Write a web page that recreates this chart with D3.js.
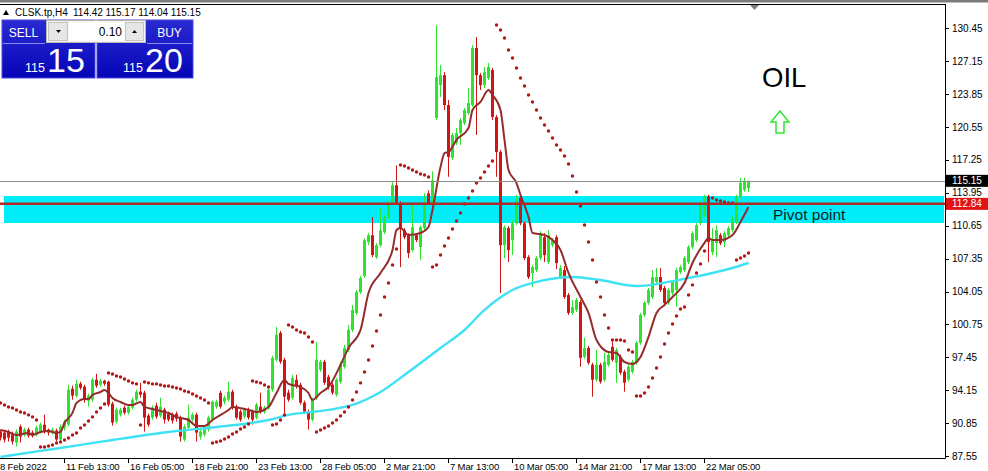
<!DOCTYPE html>
<html><head><meta charset="utf-8">
<script src="https://cdn.jsdelivr.net/npm/d3@7/dist/d3.min.js"></script>
<style>
html,body{margin:0;padding:0;background:#fff;}
svg{display:block;}
text{font-family:"Liberation Sans",Arial,sans-serif;}
</style></head><body>
<svg id="c" width="988" height="471"></svg>
<script>
// ---------- DATA ----------
const symbol = "CLSK.tp,H4";
const lastOHLC = ["114.42", "115.17", "114.04", "115.15"];
const opens = [
90.0,89.9,90.0,89.8,88.9,90.5,89.7,90.2,89.9,89.7,90.0,90.7,90.2,89.9,90.1,89.2,90.4,90.7,94.3,93.6,
94.8,94.5,93.1,93.2,95.2,94.7,95.1,95.0,92.8,91.0,91.7,92.4,91.9,92.4,93.2,94.0,93.9,91.6,91.4,92.6,
91.6,92.2,91.8,91.7,91.8,91.4,89.2,90.4,91.2,91.7,89.5,89.7,90.2,91.2,92.5,93.9,93.0,93.2,94.0,92.5,
92.0,91.5,92.2,92.0,91.4,92.5,92.0,92.4,94.2,97.2,99.9,97.2,93.9,93.4,95.2,94.7,92.9,92.0,91.2,93.4,
96.2,97.0,95.5,94.7,93.7,95.0,96.5,98.2,100.2,101.9,104.0,105.6,109.0,109.7,107.5,108.7,110.0,111.5,113.0,114.7,
112.9,110.2,109.7,108.2,109.7,108.5,110.4,113.9,112.7,121.45,124.75,125.75,122.75,117.45,118.95,119.95,120.95,121.95,122.75,128.47,
125.75,124.75,125.45,126.27,121.55,118.05,108.7,110.4,109.2,110.9,113.45,110.9,107.5,105.9,106.2,107.4,109.5,107.0,108.7,109.5,
105.5,106.2,103.7,101.9,102.2,103.0,97.5,98.4,96.7,95.2,96.7,95.2,96.7,98.5,96.9,97.5,96.0,95.2,96.0,96.9,
98.9,101.7,102.9,103.5,105.0,105.5,104.4,102.9,103.9,104.2,106.0,106.2,107.0,108.5,109.2,110.9,111.7,113.55,108.0,108.9,
109.7,109.0,109.7,110.2,111.0,113.55,114.25,114.42];
const highs = [
90.2,90.1,90.2,90.0,90.2,90.7,90.4,90.4,90.1,90.6,90.9,91.7,90.3,90.4,90.3,90.7,91.2,94.7,94.6,95.2,
95.0,94.7,93.8,95.4,95.8,95.3,95.2,95.1,93.0,92.4,92.4,92.6,92.7,93.4,94.2,94.9,94.1,91.8,92.6,92.9,
93.4,92.4,92.0,91.9,92.0,91.6,90.7,92.7,91.9,91.9,90.2,90.6,91.6,93.1,93.2,94.1,93.6,95.0,94.2,92.7,
92.2,92.4,92.4,92.2,92.9,93.9,92.6,94.4,97.6,100.5,100.1,97.4,94.2,95.7,95.7,94.9,93.1,92.2,93.4,99.0,
97.2,97.2,95.7,94.9,95.4,97.0,98.7,100.7,102.7,104.2,105.6,109.4,109.9,111.5,108.9,112.4,111.7,113.1,115.0,116.7,
113.1,110.4,109.9,112.9,109.9,110.7,113.9,114.2,116.1,130.77,126.77,126.05,123.25,119.95,120.45,121.45,122.45,124.45,128.77,129.57,
125.95,126.57,126.97,126.47,121.75,118.25,110.7,110.6,111.2,113.75,113.65,111.1,107.7,106.7,107.6,110.1,109.9,110.2,109.4,109.7,
106.7,106.6,103.9,103.2,103.4,103.2,99.4,98.6,96.9,98.2,96.9,97.9,97.9,99.0,98.4,97.7,96.2,96.7,97.2,99.1,
101.9,103.1,104.4,106.2,106.4,106.4,104.6,104.4,105.2,106.4,106.7,107.6,108.7,110.1,110.9,113.1,113.75,113.75,110.4,110.7,
109.9,110.1,110.6,111.6,113.75,115.45,115.45,115.17];
const lows = [
89.1,88.9,89.0,88.7,88.5,88.9,89.5,89.4,89.4,89.5,89.8,89.8,89.6,89.7,89.0,88.9,90.1,90.5,93.2,93.4,
94.2,92.9,92.5,93.0,94.4,94.5,94.6,92.5,90.6,90.8,91.5,91.7,91.7,92.2,93.0,93.4,90.0,90.5,91.2,91.3,
91.4,90.8,91.0,90.8,91.0,89.0,89.0,90.2,91.0,89.0,89.2,89.5,90.0,91.0,92.3,92.3,92.7,93.0,92.2,91.2,
91.0,91.3,91.2,90.7,91.2,91.8,91.8,92.2,94.0,97.0,96.8,91.5,93.0,93.2,94.3,92.7,91.8,90.2,91.0,93.2,
96.0,94.7,94.2,93.7,93.5,94.8,96.3,98.0,100.0,101.7,103.8,105.4,108.7,107.5,107.3,108.5,109.8,111.3,112.8,112.8,
106.5,109.3,107.4,108.0,109.0,107.2,110.2,112.7,112.5,121.25,123.55,122.25,115.55,117.25,118.75,118.75,120.75,121.75,122.55,119.75,
124.25,124.45,125.25,121.25,115.55,103.9,107.4,107.0,107.7,110.7,110.7,107.2,105.3,104.5,106.0,107.2,107.0,106.8,108.5,106.3,
105.3,103.3,101.7,101.7,102.0,96.5,97.3,96.7,93.5,95.0,94.8,95.0,96.5,97.0,94.9,95.7,94.0,95.0,95.8,96.7,
98.7,101.5,102.7,103.3,104.8,104.0,102.7,102.7,103.7,102.5,105.8,106.0,106.8,108.3,109.0,110.7,111.5,107.0,107.7,107.5,
108.7,108.5,109.5,110.0,110.8,113.35,114.05,114.04];
const closes = [
89.4,89.2,89.4,89.0,90.0,89.5,90.2,89.6,89.6,90.4,90.7,90.0,89.9,90.2,89.2,90.5,91.0,94.2,93.6,94.8,
94.4,93.2,93.6,95.2,94.6,95.1,94.8,92.7,90.9,92.2,92.2,91.9,92.5,93.2,94.0,93.7,91.4,90.7,92.4,91.5,
92.5,91.2,91.2,91.1,91.3,89.5,90.5,91.4,91.7,89.9,90.0,90.4,91.4,93.0,93.0,92.5,93.4,94.0,92.4,91.4,
91.2,92.2,91.4,91.2,92.7,92.0,92.4,94.2,97.4,99.7,97.0,93.5,93.2,95.4,94.5,92.9,92.0,91.2,93.2,97.2,
97.0,94.9,94.5,93.9,95.2,96.7,98.4,100.2,102.2,104.0,105.4,109.2,109.7,107.7,108.7,110.2,111.5,112.9,114.7,113.0,
110.4,109.5,107.9,110.5,109.2,110.5,112.9,112.9,115.2,125.55,125.75,122.75,117.55,119.75,119.95,121.25,122.25,122.95,128.47,125.75,
124.75,126.05,126.57,121.55,118.05,108.7,110.5,108.2,110.9,113.2,110.9,107.4,105.5,106.5,107.4,109.9,107.7,109.7,109.2,106.9,
106.4,103.5,101.9,102.5,103.2,97.4,98.4,96.9,95.2,96.7,95.0,97.0,97.7,97.2,98.2,95.9,94.9,96.5,97.0,98.9,
101.7,102.9,104.2,105.5,105.5,104.2,102.9,104.2,105.0,106.2,106.5,107.4,108.5,109.9,110.7,112.9,113.55,109.0,109.2,110.2,
108.9,109.9,110.4,111.4,113.55,114.95,115.05,115.15];
// Parabolic SAR, one value per bar
const sarValues = [
92.87,92.67,92.47,92.37,92.17,91.97,91.87,91.67,91.47,91.16,
88.46,88.46,88.56,88.66,88.86,88.96,89.16,89.36,89.66,89.86,90.36,90.66,91.06,91.47,91.97,92.37,92.77,
95.88,95.78,95.58,95.48,95.28,95.08,94.88,94.78,
90.66,
94.98,94.88,94.78,94.78,94.67,94.57,94.57,94.47,94.37,94.27,94.07,93.97,93.77,93.57,93.37,93.17,92.87,
88.86,88.96,89.06,89.26,89.46,89.76,89.96,90.26,90.46,90.76,
95.08,94.98,94.88,94.67,94.47,
90.66,90.76,91.16,91.67,
100.69,100.49,100.19,99.99,99.89,99.49,98.99,
89.96,90.16,90.36,90.56,90.86,91.16,91.57,91.97,92.47,93.17,93.97,94.88,95.98,97.18,98.59,100.09,101.70,103.5,104.91,106.71,108.32,
116.74,116.64,116.44,116.24,116.04,115.84,115.74,115.54,
106.51,106.71,107.71,108.62,109.42,110.32,111.12,111.93,112.83,113.43,114.13,114.93,115.44,116.04,116.64,117.14,
130.78,130.28,129.48,128.27,127.47,126.47,125.47,124.66,123.76,123.06,122.26,121.45,120.75,120.15,119.45,118.75,118.25,117.64,116.84,115.64,
114.03,112.63,110.72,109.02,107.21,105.0,103.5,101.70,100.39,99.19,99.19,99.19,99.09,98.18,97.98,
93.57,93.57,93.87,94.47,95.38,96.38,97.48,98.79,99.89,100.79,101.6,102.3,102.5,103.7,104.71,105.91,106.81,108.11,
113.43,113.43,113.23,113.13,113.03,112.93,112.93,
107.21,107.41,107.61,107.91];
// fast moving average (brown), sampled
const maFastBars = [0,2,4,7,8,10,12,14,15,16,18,19,21,22,23,25,26,27,28,30,32,33,35,36,38,41,42,44,47,49,51,53,57,58,62,64,67,69,71,72,75,77,78,80,82,85,87,90,92,95,98,99,100,102,105,107,108,110,111,112,114,117,118,120,122,123,125,126,127,129,130,132,133,136,138,140,142,145,147,149,152,154,156,158,160,162,164,166,168,171,173,176,177,178,180,183,185,187];
const maFastValues = [90.16,89.96,89.66,89.86,89.66,89.96,90.06,89.86,89.96,90.86,91.87,92.87,93.27,93.27,93.67,93.97,94.17,93.87,93.37,92.97,92.67,92.67,92.97,92.47,92.27,91.97,91.87,91.47,91.16,90.56,90.56,91.16,92.17,92.47,92.17,91.97,92.47,93.87,95.18,94.78,94.47,93.87,93.17,93.87,94.47,96.68,98.39,100.19,103.9,105.91,108.21,110.22,110.42,109.72,109.92,110.52,112.23,116.54,117.94,118.04,119.25,120.45,122.26,123.06,124.26,123.76,122.26,119.25,116.24,114.93,113.73,111.52,109.92,109.72,109.22,108.21,105.91,103.5,101.9,99.19,97.98,97.88,96.98,96.78,97.48,99.49,101.9,102.7,103.5,104.91,106.91,108.92,109.42,109.22,109.22,109.72,111.02,112.53];
// slow moving average (cyan), sampled
const maSlowBars = [0,10,20,28,42,54,67,72,82,88,95,102,110,116,121,128,135,143,150,159,167,172,178,183,187];
const maSlowValues = [87.45,88.06,88.66,89.16,89.96,90.46,91.16,91.67,92.17,92.67,93.97,95.98,98.39,100.19,102.2,104.2,105.11,105.51,105.2,104.6,105.01,105.41,105.91,106.41,106.91];
const priceTicks = [130.45,127.15,123.85,120.55,117.25,113.95,110.65,107.35,104.05,100.75,97.45,94.15,90.85,87.55];
const timeTickBars = [-0.5,16,32,48,64,80,96,112,128,144,160,176];
const timeTickLabels = ["8 Feb 2022","11 Feb 13:00","16 Feb 05:00","18 Feb 21:00","23 Feb 13:00","28 Feb 05:00","2 Mar 21:00","7 Mar 13:00","10 Mar 05:00","14 Mar 21:00","17 Mar 13:00","22 Mar 05:00"];
const pivotLevel = 112.84;
const bidPrice = 115.15;
const pivotZone = [110.92, 113.63];
const pivotZoneBars = [1, 236];
const pivotLabel = "Pivot point";
const titleLabel = "OIL";
const sellPrice = ["115", "15"];
const buyPrice = ["115", "20"];
const lotSize = "0.10";

// ---------- DRAW ----------
const svg = d3.select("#c");
const plotR = 945, plotT = 4, plotB = 458;
const x = d3.scaleLinear().domain([0, 236.25]).range([0, plotR]);
const y = d3.scaleLinear().domain([87.55, 130.45]).range([456, 28.3]);
const bull = "#2fe22f", bear = "#d11414";

svg.append("rect").attr("width", 988).attr("height", 471).attr("fill", "#fff");
const defs = svg.append("defs");
defs.append("clipPath").attr("id", "clip")
  .append("rect").attr("x", 0).attr("y", plotT + 1).attr("width", plotR).attr("height", plotB - plotT - 1);

const plot = svg.append("g").attr("clip-path", "url(#clip)");

// pivot zone band
plot.append("rect")
  .attr("x", x(pivotZoneBars[0])).attr("width", x(pivotZoneBars[1]) - x(pivotZoneBars[0]))
  .attr("y", y(pivotZone[1])).attr("height", y(pivotZone[0]) - y(pivotZone[1]))
  .attr("fill", "#00eefa");

// candles
const bars = opens.map((o, i) => ({i, o, h: highs[i], l: lows[i], c: closes[i]}));
const cg = plot.append("g");
cg.selectAll("line.w").data(bars).join("line")
  .attr("x1", d => Math.round(x(d.i)) + 0.5).attr("x2", d => Math.round(x(d.i)) + 0.5)
  .attr("y1", d => y(d.h)).attr("y2", d => y(d.l))
  .attr("stroke", d => d.c >= d.o ? bull : bear).attr("stroke-width", 1);
cg.selectAll("rect.b").data(bars).join("rect")
  .attr("x", d => Math.round(x(d.i)) - 1).attr("width", 3)
  .attr("y", d => y(Math.max(d.o, d.c)))
  .attr("height", d => Math.max(1, Math.abs(y(d.o) - y(d.c))))
  .attr("fill", d => d.c >= d.o ? bull : bear);

// moving averages
const line = d3.line().curve(d3.curveMonotoneX);
plot.append("path")
  .attr("d", line(maSlowBars.map((b, k) => [x(b) + 0.5, y(maSlowValues[k])])))
  .attr("fill", "none").attr("stroke", "#3fe2f2").attr("stroke-width", 2.4);
plot.append("path")
  .attr("d", line(maFastBars.map((b, k) => [x(b) + 0.5, y(maFastValues[k])])))
  .attr("fill", "none").attr("stroke", "#952c2c").attr("stroke-width", 2);

// SAR
plot.append("g").selectAll("circle").data(sarValues).join("circle")
  .attr("cx", (v, i) => x(i) + 0.5).attr("cy", v => y(v)).attr("r", 1.7)
  .attr("fill", "#b51616");

// bid line and pivot line
plot.append("line").attr("x1", 0).attr("x2", plotR)
  .attr("y1", Math.round(y(bidPrice)) + 0.5).attr("y2", Math.round(y(bidPrice)) + 0.5)
  .attr("stroke", "#8c8c8c").attr("stroke-width", 1);
plot.append("line").attr("x1", 0).attr("x2", plotR)
  .attr("y1", y(pivotLevel)).attr("y2", y(pivotLevel))
  .attr("stroke", "#b02a2a").attr("stroke-width", 2.5);

// labels on chart
plot.append("text").attr("x", 773).attr("y", y(pivotLevel) + 16)
  .attr("font-size", 15.5).attr("fill", "#0d1a24").text(pivotLabel);
plot.append("text").attr("x", 762).attr("y", 87)
  .attr("font-size", 27.5).attr("fill", "#000").text(titleLabel);
// green hollow up arrow
plot.append("path")
  .attr("d", "M780,111 L789,122 L784,122 L784,133 L776,133 L776,122 L771,122 Z")
  .attr("fill", "none").attr("stroke", "#2ee52e").attr("stroke-width", 1.5);

// frame
svg.append("rect").attr("x", 0).attr("y", 0).attr("width", 988).attr("height", 2.5).attr("fill", "#7a7a7a");
svg.append("line").attr("x1", 0).attr("x2", plotR + 0.5).attr("y1", plotT + 0.5).attr("y2", plotT + 0.5).attr("stroke", "#000");
svg.append("line").attr("x1", plotR + 0.5).attr("x2", plotR + 0.5).attr("y1", plotT).attr("y2", plotB + 0.5).attr("stroke", "#000");
svg.append("line").attr("x1", 0).attr("x2", plotR + 0.5).attr("y1", plotB + 0.5).attr("y2", plotB + 0.5).attr("stroke", "#000");
// shift marker
svg.append("path").attr("d", "M750,5 L759,5 L754.5,10 Z").attr("fill", "#7d7d7d");

// price axis
const pa = svg.append("g");
pa.selectAll("line").data(priceTicks).join("line")
  .attr("x1", plotR).attr("x2", plotR + 4)
  .attr("y1", d => Math.round(y(d)) + 0.5).attr("y2", d => Math.round(y(d)) + 0.5).attr("stroke", "#000");
pa.selectAll("text").data(priceTicks).join("text")
  .attr("x", plotR + 7).attr("y", d => y(d) + 3.5)
  .attr("font-size", 10).attr("fill", "#000").text(d => d.toFixed(2));
// price boxes
const boxes = [{v: bidPrice, bg: "#000"}, {v: pivotLevel, bg: "#e01212"}];
boxes.forEach(b => {
  svg.append("rect").attr("x", plotR + 1).attr("y", y(b.v) - 6).attr("width", 43).attr("height", 12).attr("fill", b.bg);
  svg.append("text").attr("x", plotR + 7).attr("y", y(b.v) + 3.5).attr("font-size", 10).attr("fill", "#fff").text(b.v.toFixed(2));
});

// time axis
const ta = svg.append("g");
ta.selectAll("line").data(timeTickBars).join("line")
  .attr("x1", d => Math.round(x(d)) + 0.5).attr("x2", d => Math.round(x(d)) + 0.5)
  .attr("y1", plotB).attr("y2", plotB + 5).attr("stroke", "#000");
ta.selectAll("text").data(timeTickBars).join("text")
  .attr("x", d => x(d) + 2).attr("y", 469.5)
  .attr("font-size", 9.5).attr("letter-spacing", -0.15).attr("fill", "#000").text((d, k) => timeTickLabels[k]);

// header
svg.append("path").attr("d", "M3,15 L6,10 L9,15 Z").attr("fill", "#000");
svg.append("text").attr("x", 15).attr("y", 15.5).attr("font-size", 10).attr("fill", "#000").text(symbol);
svg.append("text").attr("x", 73).attr("y", 15.5).attr("font-size", 10).attr("fill", "#000").text(lastOHLC.join(" "));

// one-click trading panel
const panel = svg.append("g");
const gr = defs.append("linearGradient").attr("id", "bg").attr("x1", 0).attr("y1", 0).attr("x2", 0).attr("y2", 1);
gr.append("stop").attr("offset", "0%").attr("stop-color", "#2a2ad2");
gr.append("stop").attr("offset", "100%").attr("stop-color", "#0505b8");
[[2, 95], [97, 193]].forEach(([a, b]) => {
  panel.append("rect").attr("x", a).attr("y", 20).attr("width", b - a).attr("height", 58).attr("fill", "url(#bg)").attr("stroke", "#4a4ae0");
});
panel.append("line").attr("x1", 3).attr("x2", 45).attr("y1", 43.5).attr("y2", 43.5).attr("stroke", "#8a8af0");
panel.append("line").attr("x1", 147).attr("x2", 192).attr("y1", 43.5).attr("y2", 43.5).attr("stroke", "#8a8af0");
panel.append("text").attr("x", 23.5).attr("y", 36.5).attr("text-anchor", "middle").attr("font-size", 12).attr("fill", "#fff").text("SELL");
panel.append("text").attr("x", 169.5).attr("y", 36.5).attr("text-anchor", "middle").attr("font-size", 12).attr("fill", "#fff").text("BUY");
// lot control
panel.append("rect").attr("x", 46.5).attr("y", 20.5).attr("width", 99).attr("height", 22).attr("fill", "#f4f4f4").attr("stroke", "#b8b8b8");
panel.append("rect").attr("x", 48.5).attr("y", 22.5).attr("width", 19).attr("height", 18).attr("fill", "#e6e6e6").attr("stroke", "#c4c4c4");
panel.append("rect").attr("x", 68.5).attr("y", 22.5).attr("width", 56).attr("height", 18).attr("fill", "#fff");
panel.append("rect").attr("x", 125.5).attr("y", 22.5).attr("width", 18).attr("height", 18).attr("fill", "#e6e6e6").attr("stroke", "#c4c4c4");
panel.append("path").attr("d", "M56,30 L61,30 L58.5,33 Z").attr("fill", "#000");
panel.append("path").attr("d", "M132,33 L137,33 L134.5,30 Z").attr("fill", "#000");
panel.append("text").attr("x", 122).attr("y", 36).attr("text-anchor", "end").attr("font-size", 12).attr("fill", "#000").text(lotSize);
// big prices
panel.append("text").attr("x", 45).attr("y", 72).attr("text-anchor", "end").attr("font-size", 12.5).attr("fill", "#fff").text(sellPrice[0]);
panel.append("text").attr("x", 47).attr("y", 72).attr("font-size", 34).attr("fill", "#fff").text(sellPrice[1]);
panel.append("text").attr("x", 143).attr("y", 72).attr("text-anchor", "end").attr("font-size", 12.5).attr("fill", "#fff").text(buyPrice[0]);
panel.append("text").attr("x", 145).attr("y", 72).attr("font-size", 34).attr("fill", "#fff").text(buyPrice[1]);
</script>
</body></html>
